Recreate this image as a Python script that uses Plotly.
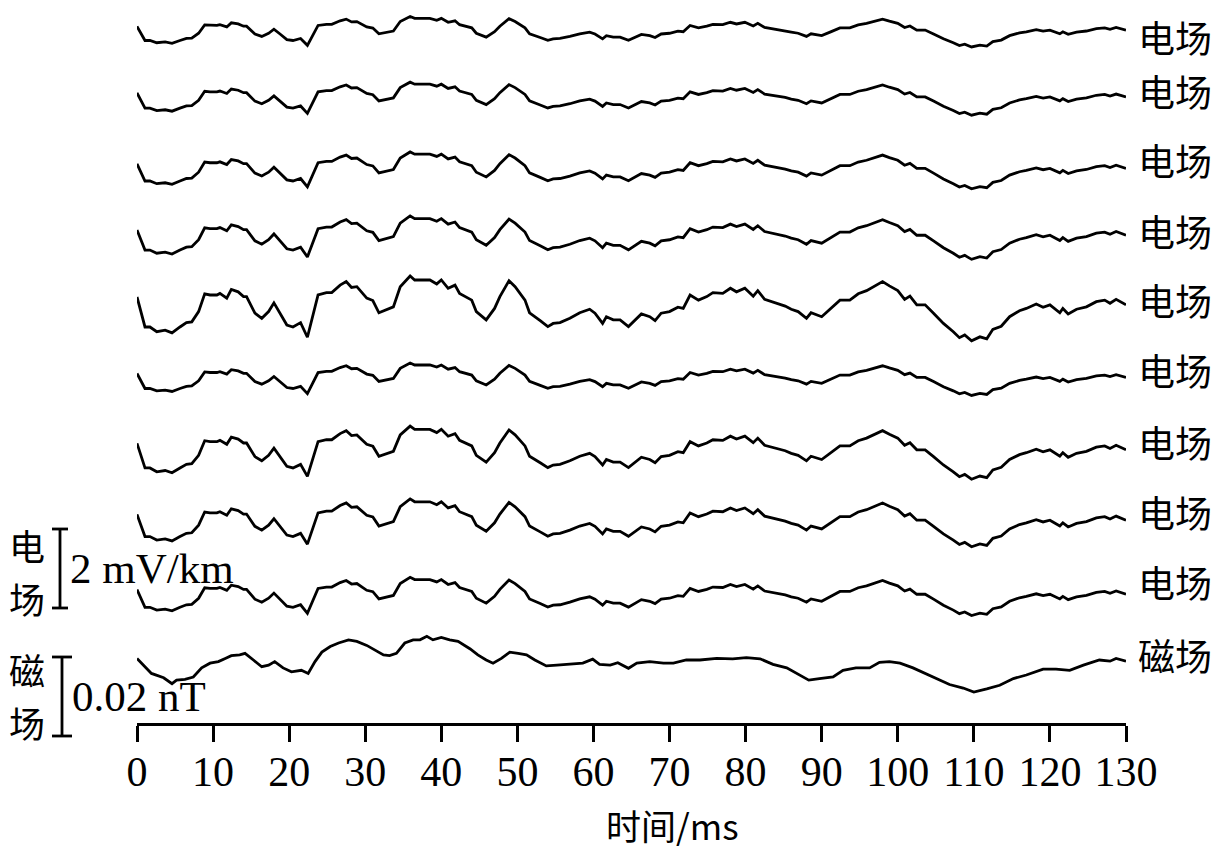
import plotly.graph_objects as go

# ---------------- data ----------------
# electric-field waveform (mV/km) of the strongest channel, time in ms
e_time = [0, 1.05, 1.7, 2.6, 3.7, 4.6, 5.65, 6.5, 7.2, 8.1, 8.9, 9.6, 10.5, 10.9, 11.8, 12.4, 13.3, 14.0, 14.4,
          15.5, 16.4, 17.3, 18.0, 18.8, 19.7, 20.5, 21.5, 22.4, 23.0, 23.8, 24.9, 25.6, 26.7, 27.5, 28.2, 28.9,
          30.2, 31.0, 31.8, 32.6, 33.7, 34.6, 35.9, 36.5, 37.6, 38.5, 39.4, 40.0, 40.9, 41.8, 42.4, 44.0, 44.6,
          45.9, 47.0, 47.7, 48.9, 49.7, 51.0, 51.6, 53.0, 54.0, 54.7, 55.6, 56.9, 58.2, 59.5, 60.2, 61.2, 61.7,
          62.6, 63.5, 64.6, 65.4, 66.3, 67.4, 68.1, 68.9, 70.0, 71.1, 71.8, 72.7, 73.8, 74.9, 75.7, 77.0, 78.0,
          78.8, 79.9, 81.0, 81.6, 82.5, 84.0, 85.2, 86.0, 86.9, 88.0, 88.6, 90.0, 91.1, 92.4, 93.7, 94.8, 95.9,
          97.0, 98.0, 98.9, 100.0, 100.9, 101.6, 102.5, 103.6, 104.7, 106.0, 107.3, 108.1, 108.8, 109.7, 110.8,
          111.7, 112.5, 113.6, 114.7, 116.0, 116.9, 118.2, 119.1, 120.0, 121.3, 121.7, 122.4, 123.5, 124.8,
          126.1, 127.2, 127.9, 128.7, 130]
e_base = [0.33, -0.43, -0.43, -0.55, -0.51, -0.58, -0.43, -0.32, -0.30, -0.04, 0.41, 0.38, 0.38, 0.42, 0.30,
          0.52, 0.46, 0.34, 0.34, -0.08, -0.21, -0.04, 0.18, -0.08, -0.38, -0.43, -0.32, -0.69, -0.25, 0.38,
          0.44, 0.44, 0.63, 0.72, 0.57, 0.59, 0.30, 0.24, -0.07, 0.00, 0.08, 0.59, 0.86, 0.76, 0.76, 0.76, 0.66,
          0.76, 0.55, 0.63, 0.42, 0.25, -0.04, -0.25, 0.04, 0.34, 0.74, 0.59, 0.25, -0.07, -0.27, -0.42, -0.34,
          -0.32, -0.21, -0.07, 0.02, -0.08, -0.34, -0.17, -0.25, -0.25, -0.42, -0.27, -0.10, -0.17, -0.27,
          -0.08, -0.04, 0.07, 0.04, 0.38, 0.25, 0.34, 0.44, 0.42, 0.55, 0.46, 0.55, 0.35, 0.49, 0.27, 0.18,
          0.10, 0.02, -0.04, -0.21, -0.07, -0.17, 0.02, 0.25, 0.25, 0.41, 0.49, 0.61, 0.72, 0.61, 0.49, 0.27,
          0.35, 0.13, 0.13, -0.08, -0.34, -0.55, -0.70, -0.63, -0.78, -0.68, -0.73, -0.49, -0.41, -0.17, -0.02,
          0.04, 0.15, 0.07, 0.13, -0.07, 0.04, -0.10, 0.02, 0.08, 0.21, 0.25, 0.17, 0.27, 0.13]
# relative amplitude of each of the nine electric channels (top to bottom)
e_gain = [0.47, 0.51, 0.57, 0.67, 1.0, 0.50, 0.82, 0.74, 0.59]

# magnetic-field waveform (pT), time in ms
m_time = [0, 0.8, 1.9, 3.5, 4.6, 5.2, 6.3, 7.4, 8.5, 9.6, 10.7, 11.6, 12.4, 13.5, 14.2, 15.3, 16.4, 17.3, 18.1,
          19.2, 20.3, 21.6, 22.5, 23.4, 24.3, 25.4, 26.5, 27.8, 28.9, 30.2, 31.3, 32.4, 33.2, 34.1, 35.2, 36.3,
          37.2, 38.1, 38.9, 40.0, 41.1, 42.2, 43.8, 44.8, 45.9, 46.8, 47.9, 49.0, 50.1, 51.2, 52.3, 53.8, 55.2,
          56.5, 57.6, 58.6, 59.9, 60.8, 62.2, 63.2, 64.6, 65.7, 67.4, 69.2, 70.5, 72.2, 74.0, 76.2, 78.3, 80.1,
          81.9, 83.6, 85.4, 87.1, 88.3, 89.7, 91.5, 92.8, 94.5, 96.3, 97.6, 98.9, 100.3, 102.0, 103.4, 105.1,
          106.8, 108.6, 110.0, 111.7, 113.4, 115.2, 116.9, 119.1, 120.8, 122.6, 124.4, 126.5, 127.9, 128.7, 130]
m_vals = [0.4, -1.3, -3.4, -4.5, -6.0, -5.1, -4.9, -4.3, -2.0, -0.8, -0.4, 0.4, 1.1, 1.3, 1.7, 0.0, -1.7, -1.3,
          -0.4, -2.0, -3.0, -2.6, -3.4, -0.4, 2.0, 3.4, 4.3, 5.1, 4.7, 3.7, 2.6, 1.3, 1.1, 1.7, 4.3, 5.1, 5.1,
          6.0, 5.1, 5.7, 5.1, 4.7, 2.8, 1.3, 0.0, -0.8, 0.4, 2.0, 1.7, 1.3, 0.0, -1.5, -1.3, -1.1, -1.1, -0.8,
          0.2, -1.1, -1.3, -0.7, -2.1, -0.8, -0.4, -0.8, -0.8, 0.0, 0.0, 0.4, 0.3, 0.6, 0.3, -1.1, -2.0, -3.9,
          -5.1, -4.7, -4.3, -2.6, -2.0, -2.0, -0.6, -0.4, -0.8, -2.0, -3.2, -4.7, -6.2, -7.1, -8.1, -7.3, -6.4,
          -4.7, -3.8, -2.3, -2.3, -2.6, -1.3, 0.0, -0.3, 0.4, -0.3]

x_ticks = [0, 10, 20, 30, 40, 50, 60, 70, 80, 90, 100, 110, 120, 130]
channel_labels = ["电场"] * 9 + ["磁场"]
e_scale_text = "2 mV/km"
m_scale_text = "0.02 nT"
x_title = "时间/ms"

# ---------------- layout constants ----------------
PAGE_PAD = 8                # default body margin of the html page
W, H = 1224 - PAGE_PAD, 849 - PAGE_PAD
PX_PER_UNIT = 39.5          # 1 mV/km on screen
AXIS_PY = 724 - PAGE_PAD    # pixel row of the time axis (figure coords)
E_SCALE = 2.0               # scale bar: 2 mV/km
M_SCALE_PT = 20.0           # scale bar: 0.02 nT = 20 pT
M_TO_UNITS = E_SCALE / M_SCALE_PT
LW = 2.8

def py2y(py):
    """screen row (window coords) -> data y"""
    return (AXIS_PY - (py - PAGE_PAD)) / PX_PER_UNIT

L, R = 137 - PAGE_PAD, 1126 - PAGE_PAD
def px2paper(px):
    """screen column (window coords) -> paper x"""
    return ((px - PAGE_PAD) - L) / (R - L)

# baseline rows (window pixels) of the 9 electric channels and the magnetic channel
e_rows = [32.5, 99.5, 171.3, 238.7, 310, 380, 454, 524, 597.3]
m_row = 660
label_rows = [37, 91, 160, 231, 300, 370, 442, 512, 582, 655]

SERIF = "Liberation Serif, Times New Roman, Noto Sans CJK SC, serif"
CJK = "Noto Sans CJK SC, Liberation Serif, serif"

fig = go.Figure()
for row, g in zip(e_rows, e_gain):
    off = py2y(row)
    fig.add_trace(go.Scatter(x=e_time, y=[off + g * v for v in e_base], mode="lines",
                             line=dict(color="black", width=LW), hoverinfo="skip", showlegend=False))
m_off = py2y(m_row)
fig.add_trace(go.Scatter(x=m_time, y=[m_off + v * M_TO_UNITS for v in m_vals], mode="lines",
                         line=dict(color="black", width=LW), hoverinfo="skip", showlegend=False))

# channel labels on the right
for lab, row in zip(channel_labels, label_rows):
    fig.add_annotation(x=px2paper(1137), xref="paper", y=py2y(row), yref="y", text=lab,
                       showarrow=False, xanchor="left", yanchor="middle", borderpad=0,
                       font=dict(family=CJK, size=37, color="black"))

# scale bars
def scale_bar(px, cap_l, cap_r, y0):
    shp = []
    x = px2paper(px)
    shp.append(dict(type="line", xref="paper", yref="y", x0=x, x1=x, y0=y0, y1=y0 + E_SCALE,
                    line=dict(color="black", width=LW)))
    for yy in (y0, y0 + E_SCALE):
        shp.append(dict(type="line", xref="paper", yref="y", x0=px2paper(cap_l), x1=px2paper(cap_r),
                        y0=yy, y1=yy, line=dict(color="black", width=LW)))
    return shp

e_bar_y0 = py2y(608)
m_bar_y0 = py2y(736)
shapes = scale_bar(60, 52, 68, e_bar_y0) + scale_bar(62, 52, 72, m_bar_y0)

fig.add_annotation(x=px2paper(69), xref="paper", y=e_bar_y0 + E_SCALE / 2, yref="y", text=e_scale_text,
                   showarrow=False, xanchor="left", yanchor="middle", borderpad=0,
                   font=dict(family=SERIF, size=43, color="black"))
fig.add_annotation(x=px2paper(71), xref="paper", y=m_bar_y0 + E_SCALE / 2, yref="y", text=m_scale_text,
                   showarrow=False, xanchor="left", yanchor="middle", borderpad=0,
                   font=dict(family=SERIF, size=43, color="black"))
for ch, row in (("电", 545), ("场", 598), ("磁", 669), ("场", 722)):
    fig.add_annotation(x=px2paper(27), xref="paper", y=py2y(row), yref="y", text=ch,
                       showarrow=False, xanchor="center", yanchor="middle", borderpad=0,
                       font=dict(family=CJK, size=36, color="black"))

# x-axis title
fig.add_annotation(x=px2paper(672), xref="paper", y=py2y(824), yref="y", text=x_title,
                   showarrow=False, xanchor="center", yanchor="middle", borderpad=0,
                   font=dict(family=CJK, size=35, color="black"))

fig.update_layout(
    width=W, height=H,
    margin=dict(l=L, r=W - R, t=0, b=0, autoexpand=False),
    paper_bgcolor="white", plot_bgcolor="white",
    shapes=shapes,
    xaxis=dict(range=[0, 130], tickvals=x_ticks, ticktext=[str(t) for t in x_ticks],
               showline=True, linecolor="black", linewidth=LW,
               ticks="outside", ticklen=16, tickwidth=LW, tickcolor="black",
               ticklabelstandoff=-6,
               tickfont=dict(family=SERIF, size=42, color="black"),
               showgrid=False, zeroline=False, anchor="free", position=(H - AXIS_PY) / H,
               automargin=False),
    yaxis=dict(range=[py2y(H + PAGE_PAD), py2y(PAGE_PAD)], visible=False, showgrid=False,
               zeroline=False, automargin=False),
)

fig.write_html("out.html")
